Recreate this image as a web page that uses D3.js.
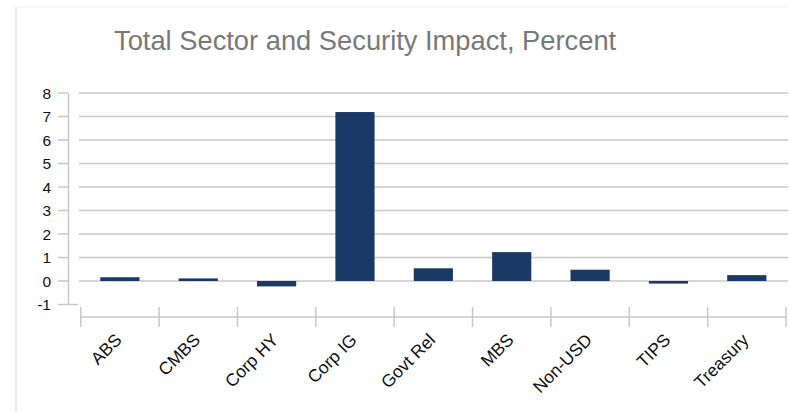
<!DOCTYPE html>
<html>
<head>
<meta charset="utf-8">
<script src="https://cdn.jsdelivr.net/npm/d3@7"></script>
<style>
  body { margin: 0; background: #fff; }
  svg { display: block; }
</style>
</head>
<body>
<svg width="789" height="412"></svg>
<script>
const width = 789,
  height = 412;

// Chart data
const categories = ["ABS", "CMBS", "Corp HY", "Corp IG", "Govt Rel", "MBS", "Non-USD", "TIPS", "Treasury"];
const impact = [0.16, 0.11, -0.23, 7.19, 0.54, 1.23, 0.48, -0.11, 0.25];
const yTicks = [-1, 0, 1, 2, 3, 4, 5, 6, 7, 8];

const gridColor = "#c8c8c8",
  barColor = "#1b3966";

const svg = d3.select("svg");

// thin frame on left and top
svg.append("line")
  .attr("x1", 16).attr("x2", 16)
  .attr("y1", 7).attr("y2", height)
  .attr("stroke", "#d4d4d4").attr("stroke-width", 1);
svg.append("line")
  .attr("x1", 16).attr("x2", width)
  .attr("y1", 7).attr("y2", 7)
  .attr("stroke", "#f0f0f0").attr("stroke-width", 1);

// Title
svg.append("text")
  .attr("x", 114)
  .attr("y", 50)
  .attr("fill", "#787878")
  .style("font-family", "'Liberation Sans Narrow', 'Liberation Sans', Arial, sans-serif")
  .style("font-size", "27.3px")
  .text("Total Sector and Security Impact, Percent");

const x = d3.scaleBand()
  .domain(categories)
  .range([80.7, 786])
  .paddingInner(0.5)
  .paddingOuter(0.25);

const y = d3.scaleLinear()
  .domain([-1, 8])
  .range([304.5, 93]);

const axisX = 68.5;

// horizontal gridlines (not at -1)
svg.append("g")
  .selectAll("line")
  .data(yTicks.filter(d => d > -1))
  .join("line")
  .attr("x1", 79).attr("x2", 788)
  .attr("y1", d => y(d)).attr("y2", d => y(d))
  .attr("stroke", gridColor).attr("stroke-width", 1.5);

// y axis line and ticks
svg.append("line")
  .attr("x1", axisX).attr("x2", axisX)
  .attr("y1", y(8)).attr("y2", y(-1))
  .attr("stroke", gridColor).attr("stroke-width", 1.5);
svg.append("g")
  .selectAll("line")
  .data(yTicks)
  .join("line")
  .attr("x1", 58)
  .attr("x2", d => d === -1 ? 78 : axisX)
  .attr("y1", d => y(d)).attr("y2", d => y(d))
  .attr("stroke", gridColor).attr("stroke-width", 1.5);

svg.append("g")
  .selectAll("text")
  .data(yTicks)
  .join("text")
  .attr("x", 51)
  .attr("y", d => y(d))
  .attr("dy", "0.36em")
  .attr("text-anchor", "end")
  .attr("fill", "#111")
  .style("font-family", "'Liberation Sans', Arial, sans-serif")
  .style("font-size", "15.5px")
  .text(d => d);

// bars
svg.append("g")
  .selectAll("rect")
  .data(categories.map((c, i) => ({ name: c, value: impact[i] })))
  .join("rect")
  .attr("x", d => x(d.name))
  .attr("width", x.bandwidth())
  .attr("y", d => y(Math.max(0, d.value)))
  .attr("height", d => Math.abs(y(d.value) - y(0)))
  .attr("fill", barColor);

// category axis below the plot
const axisY = 317;
const [r0, r1] = x.range();
svg.append("line")
  .attr("x1", r0).attr("x2", r1)
  .attr("y1", axisY).attr("y2", axisY)
  .attr("stroke", gridColor).attr("stroke-width", 1.5);

const bounds = categories.map(c => x(c) - x.step() * x.paddingInner() / 2);
bounds[0] = r0;
bounds.push(r1);
svg.append("g")
  .selectAll("line")
  .data(bounds)
  .join("line")
  .attr("x1", d => d).attr("x2", d => d)
  .attr("y1", 307).attr("y2", 327)
  .attr("stroke", gridColor).attr("stroke-width", 1.5);

svg.append("g")
  .selectAll("text")
  .data(categories)
  .join("text")
  .attr("text-anchor", "end")
  .attr("transform", d => "translate(" + (x(d) + x.bandwidth() / 2 + 3) + ",341) rotate(-45)")
  .attr("fill", "#111")
  .style("font-family", "'Liberation Sans', Arial, sans-serif")
  .style("font-size", "17.5px")
  .text(d => d);
</script>
</body>
</html>
